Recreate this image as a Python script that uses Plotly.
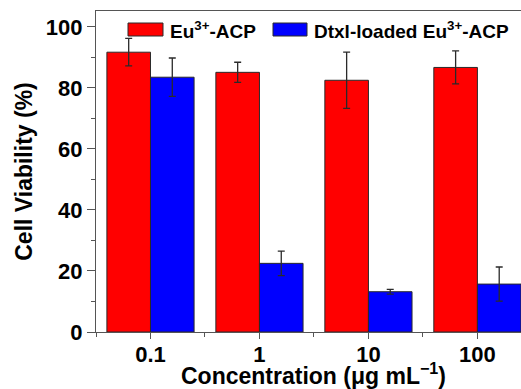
import plotly.graph_objects as go

# Cell viability after 24 h exposure at each concentration
concentrations = ["0.1", "1", "10", "100"]
eu_acp = [91.7, 85.1, 82.5, 86.7]
eu_acp_err = [4.5, 3.3, 9.2, 5.4]
dtxl_eu_acp = [83.5, 22.5, 13.2, 15.7]
dtxl_eu_acp_err = [6.3, 4.0, 0.8, 5.6]
series_names = ["Eu<sup>3+</sup>-ACP", "Dtxl-loaded Eu<sup>3+</sup>-ACP"]
x_title = "Concentration (μg mL<sup>−1</sup>)"
y_title = "Cell Viability (%)"

W, H = 521, 389
ML, MR, MT, MB = 96, 0, 11, 57
FONT = "Liberation Sans, Arial, sans-serif"
EDGE = "#2a2a2a"
AXIS = "#555555"

x_pos = list(range(len(concentrations)))


def px_x(p):
    return (p - ML) / (W - ML - MR)


def px_y(p):
    return (H - MB - p) / (H - MT - MB)


fig = go.Figure()
fig.add_trace(go.Bar(
    x=x_pos, y=eu_acp, name=series_names[0],
    marker=dict(color="#ff0000", line=dict(color=EDGE, width=1)),
    error_y=dict(type="data", array=eu_acp_err, color=EDGE, thickness=1.3, width=3.5),
    showlegend=False,
))
fig.add_trace(go.Bar(
    x=x_pos, y=dtxl_eu_acp, name=series_names[1],
    marker=dict(color="#0000ff", line=dict(color=EDGE, width=1)),
    error_y=dict(type="data", array=dtxl_eu_acp_err, color=EDGE, thickness=1.3, width=3.5),
    showlegend=False,
))

# legend with wide swatches
legend_items = [
    (128, 163, 168, "#ff0000", series_names[0]),
    (273, 307, 312, "#0000ff", series_names[1]),
]
for x0, x1, tx, col, label in legend_items:
    fig.add_shape(type="rect", xref="paper", yref="paper",
                  x0=px_x(x0), x1=px_x(x1), y0=px_y(36), y1=px_y(23),
                  fillcolor=col, line=dict(color=EDGE, width=1))
    fig.add_annotation(xref="paper", yref="paper", x=px_x(tx), y=px_y(30),
                       xanchor="left", yanchor="middle", showarrow=False,
                       text=label,
                       font=dict(family=FONT, size=19, color="black", weight="bold"))

# x-axis title placed directly under the tick labels
fig.add_annotation(xref="paper", yref="paper", x=px_x(313), y=px_y(391),
                   xanchor="center", yanchor="bottom", showarrow=False,
                   text=x_title,
                   font=dict(family=FONT, size=23, color="black", weight="bold"))

fig.update_layout(
    width=W, height=H,
    margin=dict(l=ML, r=MR, t=MT, b=MB, pad=0),
    paper_bgcolor="white", plot_bgcolor="white",
    barmode="group", bargap=0.2, bargroupgap=0,
    font=dict(family=FONT, size=22, color="black", weight="bold"),
)
fig.update_xaxes(
    range=[-0.5, 3.40], tickmode="array", tickvals=x_pos, ticktext=concentrations,
    showline=True, linecolor=AXIS, linewidth=1.2, mirror=True,
    ticks="outside", ticklen=6, tickcolor=AXIS, tickwidth=1,
    ticklabelstandoff=-4,
    minor=dict(tickmode="array", tickvals=[-0.5, 0.5, 1.5, 2.5], ticks="outside",
               ticklen=4, tickcolor=AXIS),
    showgrid=False, zeroline=False,
    tickfont=dict(size=22, weight="bold"),
)
fig.update_yaxes(
    range=[0, 105.2], tickmode="linear", tick0=0, dtick=20,
    showline=True, linecolor=AXIS, linewidth=1.2, mirror=False,
    ticks="outside", ticklen=8, tickcolor=AXIS, tickwidth=1,
    minor=dict(dtick=10, ticks="outside", ticklen=4, tickcolor=AXIS),
    showgrid=False, zeroline=False,
    tickfont=dict(size=22, weight="bold"),
    title=dict(text=y_title, font=dict(size=23, weight="bold"), standoff=6),
)

fig.write_html("out.html")
